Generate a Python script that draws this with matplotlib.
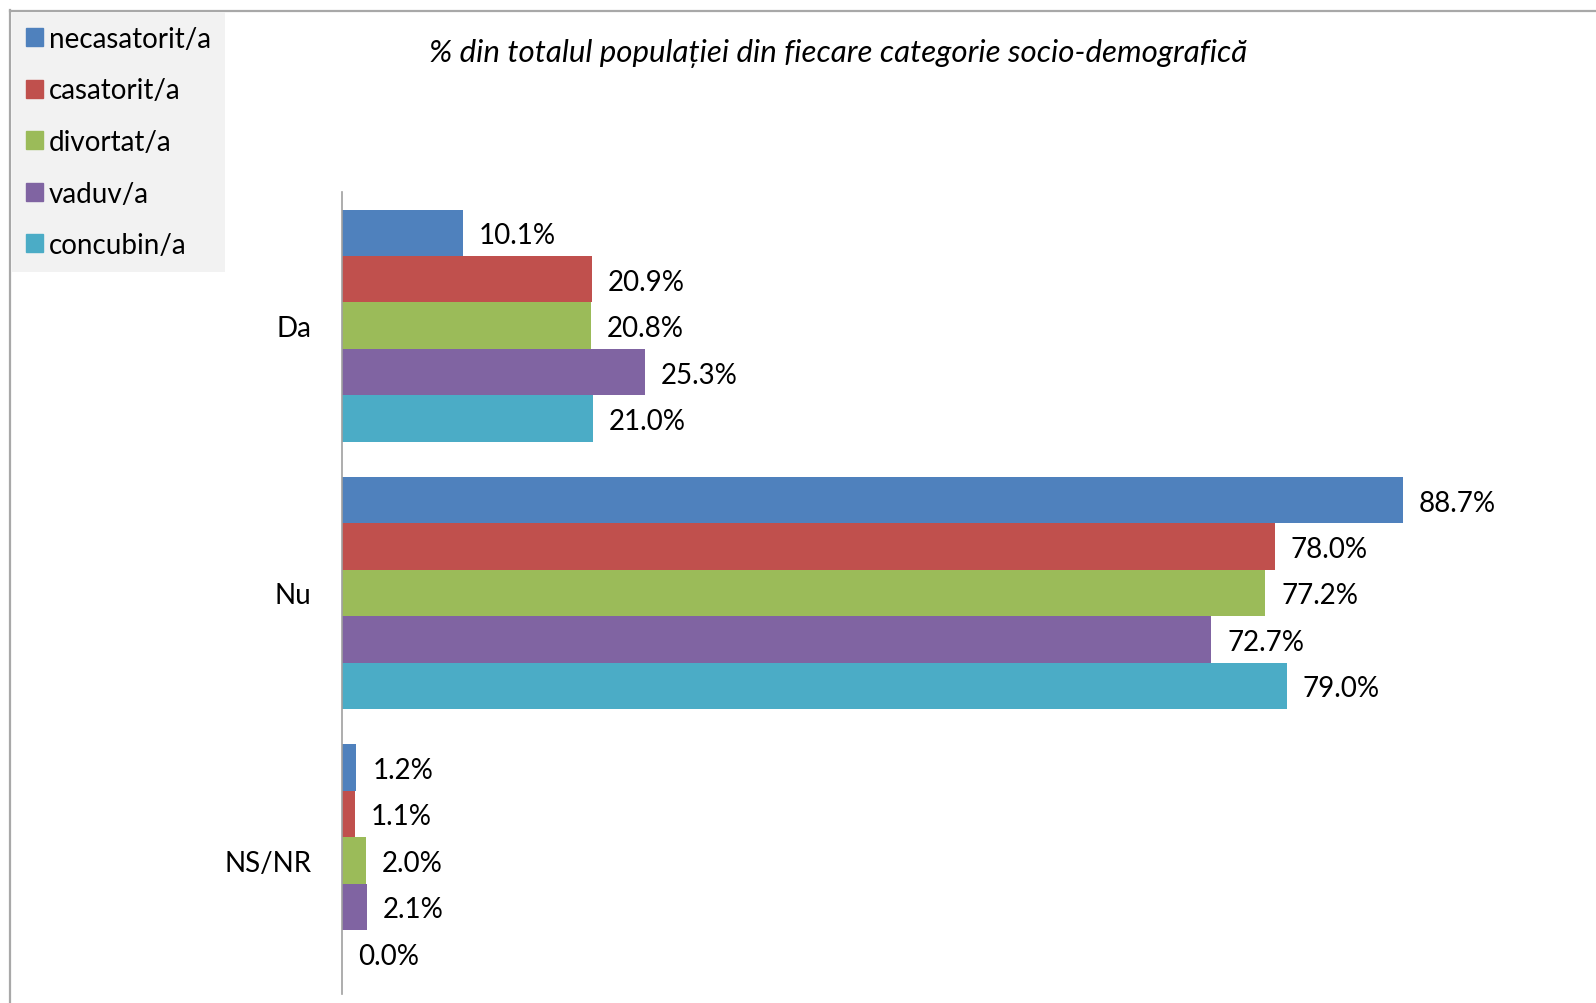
import matplotlib.pyplot as plt
import matplotlib.lines as mlines
import matplotlib.patches as mpatches
import numpy as np

plt.rcParams['font.family'] = ['Lato', 'DejaVu Sans']

categories = ["Da", "Nu", "NS/NR"]
series = ["necasatorit/a", "casatorit/a", "divortat/a", "vaduv/a", "concubin/a"]
colors = ["#4F81BD", "#C0504D", "#9BBB59", "#8064A2", "#4BACC6"]
values = {
    "necasatorit/a": [10.1, 88.7, 1.2],
    "casatorit/a": [20.9, 78.0, 1.1],
    "divortat/a": [20.8, 77.2, 2.0],
    "vaduv/a": [25.3, 72.7, 2.1],
    "concubin/a": [21.0, 79.0, 0.0],
}
title = "% din totalul populației din fiecare categorie socio-demografică"

W, H = 1596, 1004
fig = plt.figure(figsize=(W / 100, H / 100), dpi=100)
ax = fig.add_axes([342 / W, 9 / H, 1196 / W, 802 / H])

y = np.arange(len(categories))
bar_h = 0.1736
n = len(series)
for i, (name, col) in enumerate(zip(series, colors)):
    offs = (i - (n - 1) / 2) * bar_h
    bars = ax.barh(y + offs, values[name], height=bar_h, color=col,
                   edgecolor="none", label=name)
    lbls = ax.bar_label(bars, labels=[f"{v:.1f}%" for v in values[name]],
                        padding=11.5, fontsize=20)
    for t in lbls:
        t.set_va("center_baseline")

ax.set_xlim(0, 100)
ax.set_ylim(2.5, -0.5)
ax.set_yticks(y)
ax.set_yticklabels(categories, fontsize=20)
ax.tick_params(axis="y", length=0, pad=22)
ax.set_xticks([])
for s in ["top", "right", "bottom"]:
    ax.spines[s].set_visible(False)
ax.spines["left"].set_color("#A0A0A0")
ax.spines["left"].set_linewidth(1.2)
ax.patch.set_alpha(0)

fig.text(838 / W, 1 - 53 / H, title, ha="center", va="center",
         fontsize=22.5, style="italic")

# outer chart border (left and top edges)
fig.add_artist(mlines.Line2D([10 / W, 10 / W], [0, 1 - 11 / H],
                             color="#A8A8A8", lw=1.6))
fig.add_artist(mlines.Line2D([10 / W, 1], [1 - 11.5 / H, 1 - 11.5 / H],
                             color="#A8A8A8", lw=1.6))

handles = [mpatches.Patch(color=c, label=s) for s, c in zip(series, colors)]
leg = fig.legend(handles=handles, loc="upper left",
                 bbox_to_anchor=(12 / W, 1 - 13 / H), borderaxespad=0,
                 fontsize=20, frameon=True, fancybox=False, framealpha=1,
                 facecolor="#F2F2F2", edgecolor="none",
                 handlelength=0.62, handleheight=0.62, handletextpad=0.2,
                 labelspacing=0.92, borderpad=0.5)

fig.savefig("out.png", dpi=100)
